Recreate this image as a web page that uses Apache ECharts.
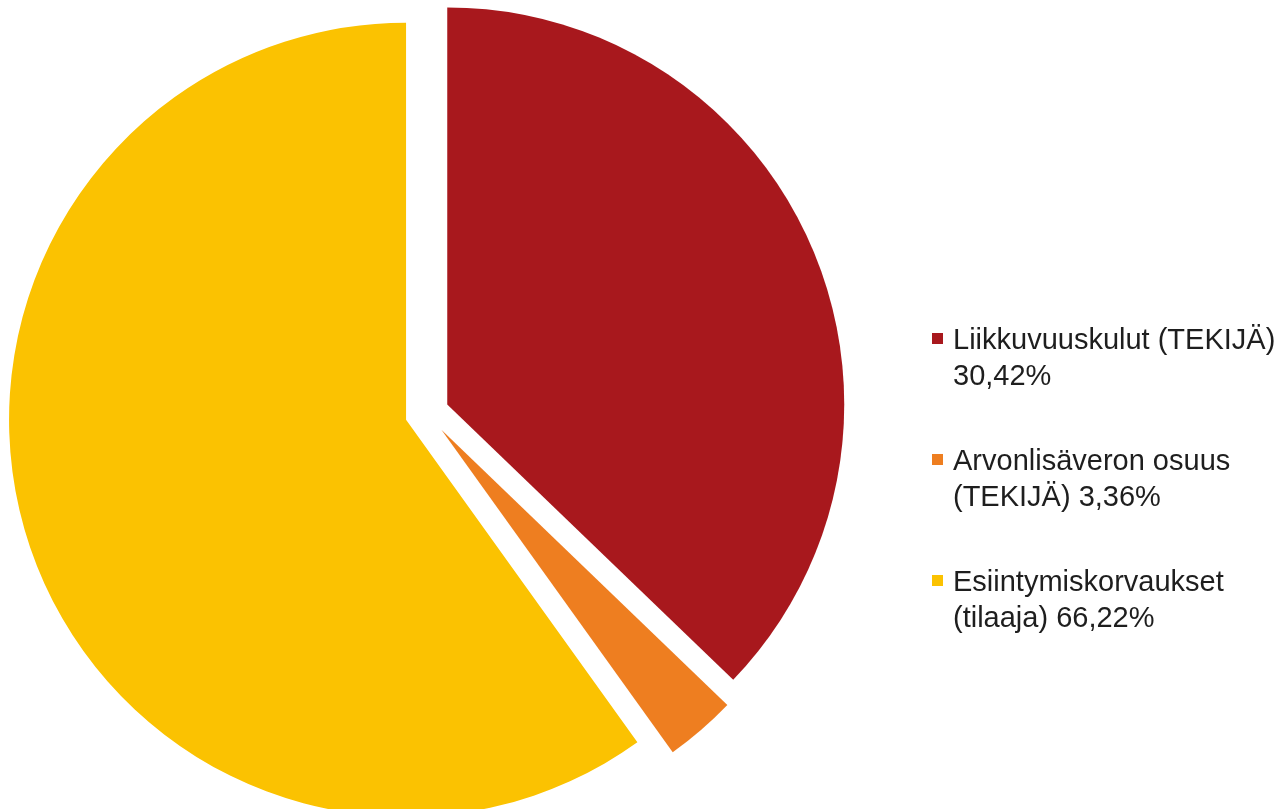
<!DOCTYPE html>
<html>
<head>
<meta charset="utf-8">
<script src="https://cdn.jsdelivr.net/npm/echarts@6/dist/echarts.min.js"></script>
<style>
  html, body { margin: 0; padding: 0; background: #ffffff; }
  #chart { width: 1286px; height: 809px; }
</style>
</head>
<body>
<div id="chart"></div>
<script>
// Slice names, drawn shares and legend labels
const categories = ['Liikkuvuuskulut (TEKIJÄ)', 'Arvonlisäveron osuus (TEKIJÄ)', 'Esiintymiskorvaukset (tilaaja)'];
const drawnValues = [37.2, 2.9, 59.9];
const legendLabels = ['Liikkuvuuskulut (TEKIJÄ)\n30,42%', 'Arvonlisäveron osuus\n(TEKIJÄ) 3,36%', 'Esiintymiskorvaukset\n(tilaaja) 66,22%'];
const colors = ['#A8181D', '#EE7E20', '#FBC201'];

const chart = echarts.init(document.getElementById('chart'), null, { renderer: 'canvas' });

const pieData = categories.map((name, i) => ({
  name: name,
  value: drawnValues[i],
  selected: true,
  itemStyle: { color: colors[i] }
}));

const option = {
  animation: false,
  backgroundColor: '#ffffff',
  legend: {
    orient: 'vertical',
    left: 932,
    top: 323,
    padding: 0,
    itemGap: 49,
    itemWidth: 16,
    itemHeight: 72,
    selectedMode: false,
    icon: 'path://M0,0L0.01,0M0,10H11V21H0ZM16,72L15.99,72',
    itemStyle: { borderWidth: 0 },
    data: categories,
    formatter: function (name) {
      return legendLabels[categories.indexOf(name)];
    },
    textStyle: {
      fontFamily: '"Liberation Sans", Arial, Helvetica, sans-serif',
      fontSize: 29,
      lineHeight: 36,
      color: '#1e1e1e'
    }
  },
  series: [{
    type: 'pie',
    center: [427, 413],
    radius: [0, 397],
    startAngle: 90,
    clockwise: true,
    selectedMode: 'multiple',
    selectedOffset: 22,
    silent: true,
    label: { show: false },
    labelLine: { show: false },
    itemStyle: { borderWidth: 0 },
    emphasis: { disabled: true },
    data: pieData
  }]
};

chart.setOption(option);
</script>
</body>
</html>
